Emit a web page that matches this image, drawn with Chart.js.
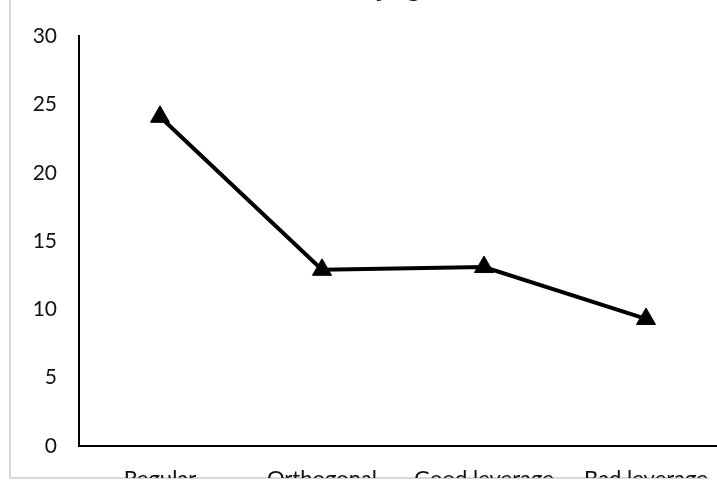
<!DOCTYPE html>
<html>
<head>
<meta charset="utf-8">
<script src="https://cdn.jsdelivr.net/npm/chart.js@4.4.1/dist/chart.umd.min.js"></script>
<style>
  html, body { margin: 0; padding: 0; background: #fff; width: 717px; height: 482px; overflow: hidden; position: relative; }
  #frame { position: absolute; left: 9px; top: -10px; width: 698px; height: 487px; border-left: 2px solid #d9d9d9; border-bottom: 2px solid #d9d9d9; }
  #clip { position: absolute; left: 10px; top: -40px; width: 740px; height: 518px; overflow: hidden; }
  #wrap { position: absolute; left: 0; top: 0; width: 740px; height: 560px; }
</style>
</head>
<body>
<div id="frame"></div>
<div id="clip"><div id="wrap"><canvas id="c"></canvas></div></div>
<script>
const titleText = "مقایسه نتایج در حالت‌های مختلف";
const categories = ["Regular", "Orthogonal", "Good leverage", "Bad leverage"];
const values = [24.1, 12.9, 13.1, 9.3];
const yTicks = [0, 5, 10, 15, 20, 25, 30];

new Chart(document.getElementById('c'), {
  type: 'line',
  data: {
    labels: categories,
    datasets: [{
      data: values,
      borderColor: '#000',
      backgroundColor: '#000',
      borderWidth: 4,
      tension: 0,
      pointStyle: 'triangle',
      pointRadius: 11,
      pointHoverRadius: 11,
      pointBackgroundColor: '#000',
      pointBorderColor: '#000',
      pointBorderWidth: 1
    }]
  },
  options: {
    responsive: true,
    maintainAspectRatio: false,
    animation: false,
    events: [],
    layout: { padding: { left: 0, right: 23, top: 0, bottom: 0 } },
    plugins: {
      legend: { display: false },
      tooltip: { enabled: false },
      title: {
        display: true,
        text: titleText,
        color: '#000',
        font: { family: 'DejaVu Sans', size: 21, weight: 'normal' },
        padding: { top: 18, bottom: 33 }
      }
    },
    scales: {
      x: {
        offset: true,
        grid: { display: false, drawTicks: false },
        border: { display: true, color: '#000', width: 2 },
        ticks: { color: '#111', padding: 20, font: { family: 'Lato', size: 22 }, maxRotation: 0, autoSkip: false },
        afterFit(s) { s.height = 74; }
      },
      y: {
        min: 0, max: 30,
        grid: { display: false, drawTicks: false },
        border: { display: true, color: '#000', width: 2 },
        afterBuildTicks(s) { s.ticks = yTicks.map(v => ({ value: v })); },
        ticks: { color: '#111', padding: 22, font: { family: 'Lato', size: 21 } },
        afterFit(s) { s.width = 69; }
      }
    }
  }
});
</script>
</body>
</html>
